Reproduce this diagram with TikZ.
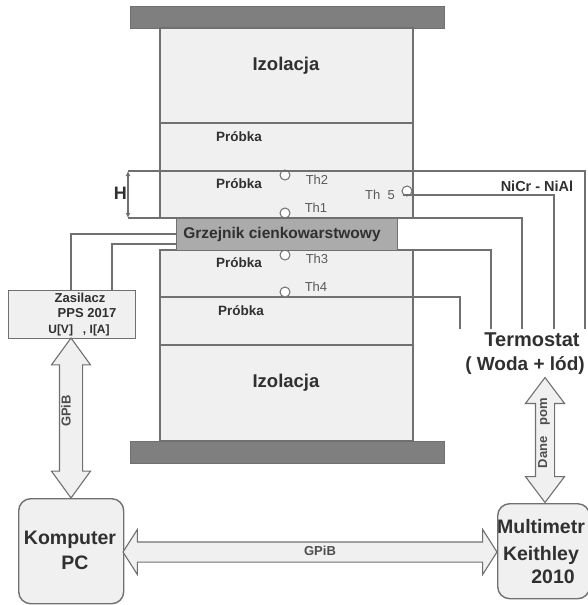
\documentclass[tikz,border=0pt]{standalone}
\usepackage{fontspec}
\setmainfont{Liberation Sans}
\usepackage{xcolor}
\usetikzlibrary{shapes.arrows, arrows.meta}
\definecolor{linegray}{HTML}{707070}
\definecolor{layergray}{HTML}{F0F0F0}
\definecolor{plategray}{HTML}{7F7F7F}
\definecolor{heatgray}{HTML}{ABABAB}
\definecolor{inkgray}{HTML}{303030}
\tikzset{
  layer/.style={draw=linegray, fill=layergray, line width=1.2pt, anchor=north west,
    minimum width=253pt, inner sep=0pt, outer sep=0pt},
  plate/.style={draw=linegray, fill=plategray, line width=0.6pt, anchor=north west,
    minimum width=314pt, minimum height=22pt, inner sep=0pt},
  wire/.style={draw=linegray, line width=1.3pt},
  probe/.style={circle, draw=linegray, fill=white, line width=1pt, minimum size=10pt, inner sep=0pt},
  bigarrow/.style={double arrow, draw=linegray, fill=layergray, line width=1.1pt, inner xsep=0pt},
  unit/.style={draw=linegray, fill=layergray, line width=1.4pt, rounded corners=12pt, anchor=north west,
    inner sep=0pt},
  lbl/.style={font=\bfseries, text=inkgray, inner sep=0pt, align=center},
  thlbl/.style={font=\fontsize{13}{14}\selectfont, text=linegray!80!black, inner sep=0pt},
  probkalbl/.style={lbl, font=\bfseries\fontsize{13.5}{15}\selectfont},
  izollbl/.style={lbl, font=\bfseries\fontsize{18.5}{20}\selectfont},
  zaslbl/.style={lbl, font=\bfseries\fontsize{13}{15}\selectfont},
  unitlbl/.style={lbl, font=\bfseries\fontsize{19.5}{22}\selectfont},
  arrowlbl/.style={text=linegray!70!black, inner sep=0pt, font=\bfseries\fontsize{13}{15}\selectfont}
}
\begin{document}
\begin{tikzpicture}[x=1pt,y=-1pt]
  \useasboundingbox (0,0) rectangle (587,605);
  % stack
  \node[plate] (platetop) at (130,6) {};
  \node[layer, minimum height=95pt] (izoltop) at (160,28) {};
  \node[layer, minimum height=48pt] (layerA) at (160,123) {};
  \node[layer, minimum height=47pt] (layerB) at (160,171) {};
  \node[layer, minimum height=47pt] (layerC) at (160,250) {};
  \node[layer, minimum height=48pt] (layerD) at (160,297) {};
  \node[layer, minimum height=96pt] (izolbot) at (160,345) {};
  \node[plate] (platebot) at (130,441) {};
  % thermocouples
  \node[probe] (thtwo) at (285,175) {};
  \node[probe] (thone) at (285,213) {};
  \node[probe] (ththree) at (285,255) {};
  \node[probe] (thfour) at (285,292) {};
  \node[probe] (thfive) at (407,191) {};
  % free ends of the wires
  \coordinate (hleft) at (128,171);
  \coordinate (hlow) at (128,218);
  \coordinate (endA) at (585,329);
  \coordinate (endB) at (554,329);
  \coordinate (endC) at (522,329);
  \coordinate (endD) at (491,329);
  \coordinate (endE) at (460,329);
  % wires
  \draw[wire] (hleft) -- (layerB.north west) -- (layerB.north east) -| (endA);
  \draw[wire] (hlow) -- (layerB.south west) -- (layerB.south east) -| (endC);
  \draw[wire] (thfive.-135) -| (endB);
  \draw[wire] (layerC.north east) -| (endD);
  \draw[wire] (layerD.north east) -| (endE);
  \draw[wire, {Latex[length=5pt,width=5pt]}-{Latex[length=5pt,width=5pt]}] (hleft) -- (hlow);
  \node[draw=linegray, fill=heatgray, line width=1.3pt, anchor=north west, minimum width=221pt,
    minimum height=32pt, inner sep=0pt] (heater) at (176,218) {};
  \node[lbl, font=\bfseries\fontsize{15.5}{17}\selectfont] (heatertext) at (282,234) {Grzejnik cienkowarstwowy};
  % labels in the stack
  \node[izollbl] (izoltoptext) at (286,66) {Izolacja};
  \node[izollbl] (izolbottext) at (286,383) {Izolacja};
  \node[probkalbl] (probkaA) at (239,137) {Próbka};
  \node[probkalbl] (probkaB) at (239,184) {Próbka};
  \node[probkalbl] (probkaC) at (239,263) {Próbka};
  \node[probkalbl] (probkaD) at (241,311) {Próbka};
  \node[thlbl] (thtwotext) at (317,180) {Th2};
  \node[thlbl] (thonetext) at (316,208) {Th1};
  \node[thlbl] (ththreetext) at (317,259) {Th3};
  \node[thlbl] (thfourtext) at (316,287) {Th4};
  \node[thlbl] (thfivetext) at (380,195) {Th\ \ 5};
  \node[lbl, font=\bfseries\fontsize{14.5}{16}\selectfont] (nicr) at (537,186) {NiCr - NiAl};
  % units
  \node[draw=linegray, fill=layergray, line width=1.3pt, anchor=north west, minimum width=127pt,
    minimum height=48pt, inner sep=0pt] (zasilacz) at (8,290) {};
  \draw[wire] (heater.west |- 0,234) -| (zasilacz.north -| 71,0);
  \draw[wire] (heater.west |- 0,244) -| (zasilacz.north -| 112,0);
  \node[zaslbl] (zasilaczA) at (80,298) {Zasilacz};
  \node[zaslbl] (zasilaczB) at (87,313) {PPS 2017};
  \node[zaslbl, font=\bfseries\fontsize{12}{14}\selectfont] (zasilaczC) at (79,330) {U[V]\ \ \ , I[A]};
  \node[lbl, font=\bfseries\fontsize{20}{22}\selectfont] (termostat) at (532,340) {Termostat};
  \node[lbl, font=\bfseries\fontsize{19}{22}\selectfont] (woda) at (525,365) {( Woda + lód)};
  \node[unit, minimum width=105pt, minimum height=105pt] (komputer) at (18,498) {};
  \node[unitlbl] (komputerA) at (70,540) {Komputer};
  \node[unitlbl] (komputerB) at (75,563) {PC};
  \node[unit, minimum width=92pt, minimum height=95pt] (multimetr) at (497,503) {};
  \node[unitlbl] (multimetrA) at (541,527) {Multimetr};
  \node[unitlbl] (multimetrB) at (541,555) {Keithley};
  \node[unitlbl] (multimetrC) at (553,577) {2010};
  \node[lbl, font=\bfseries\fontsize{18}{20}\selectfont, anchor=east] (htext) at (127,193) {H};
  % big arrows
  \node[bigarrow, rotate=90, inner ysep=11pt, minimum height=160pt,
    double arrow head extend=8pt, double arrow tip angle=72] (gpibleft) at (71,418) {};
  \node[arrowlbl, rotate=90] (gpiblefttext) at (66,411) {GPiB};
  \node[bigarrow, rotate=90, inner ysep=9pt, minimum height=125pt,
    double arrow head extend=10pt, double arrow tip angle=74] (danepom) at (545,440) {};
  \node[arrowlbl, rotate=90] (danepomtext) at (544,433) {Dane\ \ \ pom};
  \node[bigarrow, inner ysep=9.5pt, minimum height=374pt,
    double arrow head extend=12.5pt, double arrow tip angle=115] (gpibbot) at (310,552) {};
  \node[arrowlbl] (gpibbottext) at (320,551) {GPiB};
\end{tikzpicture}
\end{document}
